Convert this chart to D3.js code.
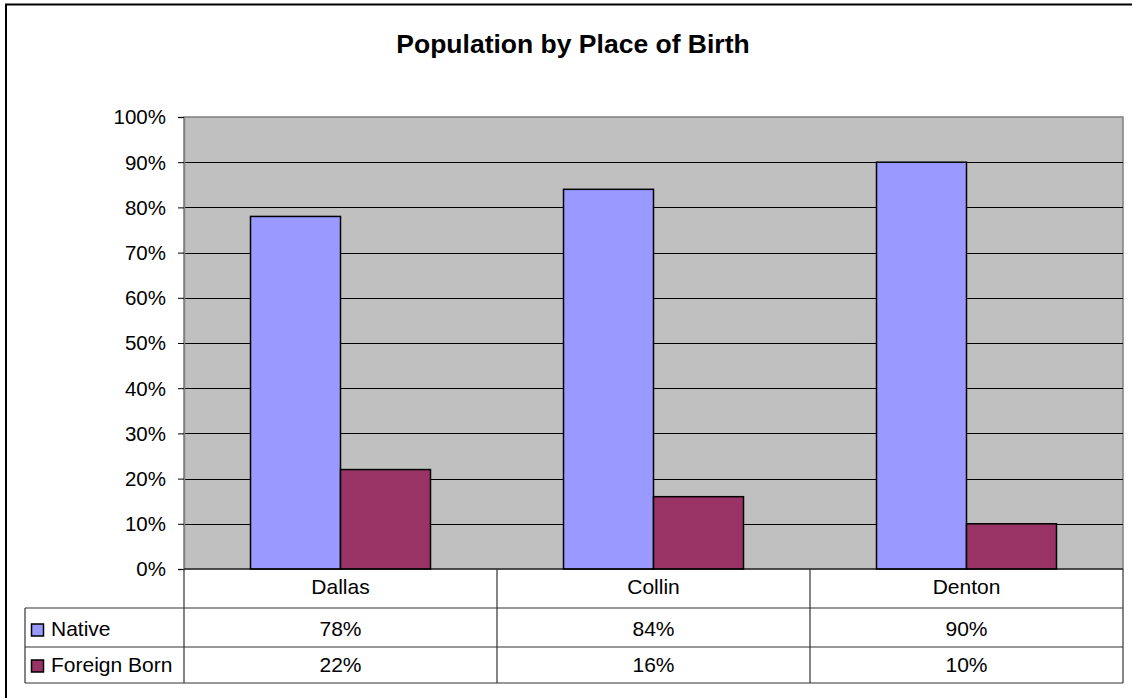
<!DOCTYPE html>
<html>
<head>
<meta charset="utf-8">
<script src="https://cdn.jsdelivr.net/npm/d3@7"></script>
<style>
  body { margin: 0; background: #fff; }
  svg { font-family: "Liberation Sans", Arial, sans-serif; }
</style>
</head>
<body>
<svg id="chart" width="1132" height="698"></svg>
<script>
'use strict';
// data
const counties = ["Dallas", "Collin", "Denton"];
const seriesNames = ["Native", "Foreign Born"];
const nativeValues = [78, 84, 90];
const foreignValues = [22, 16, 10];
const yTicks = [0, 10, 20, 30, 40, 50, 60, 70, 80, 90, 100];
const seriesColors = ["#9999FF", "#993366"];

const svg = d3.select("#chart");
const plot = { left: 184, right: 1123, top: 117, bottom: 569 };
const rowEdges = [569, 608, 647, 683];
const rowBaselines = [594, 636, 672];
const legendLeft = 25;
const fontFam = "'Liberation Sans', Arial, sans-serif";

// outer frame
svg.append("rect")
  .attr("x", 6).attr("y", 4.5).attr("width", 1140).attr("height", 710)
  .attr("fill", "#fff").attr("stroke", "#000").attr("stroke-width", 2);

svg.append("text")
  .attr("x", 573).attr("y", 53)
  .attr("text-anchor", "middle")
  .attr("font-size", "26.5px").attr("font-weight", "bold")
  .text("Population by Place of Birth");

const x = d3.scaleBand().domain(counties).range([plot.left, plot.right]);
const y = d3.scaleLinear().domain([0, 100]).range([plot.bottom, plot.top]);
const inner = d3.scaleBand().domain(seriesNames).range([0, 180]);

// plot background
svg.append("rect")
  .attr("x", plot.left).attr("y", plot.top)
  .attr("width", plot.right - plot.left).attr("height", plot.bottom - plot.top)
  .attr("fill", "#C0C0C0").attr("stroke", "#808080").attr("stroke-width", 1.5);

// gridlines
svg.append("g").selectAll("line")
  .data(yTicks.filter(d => d > 0 && d < 100))
  .enter().append("line")
  .attr("x1", plot.left).attr("x2", plot.right)
  .attr("y1", d => Math.round(y(d)) + 0.5).attr("y2", d => Math.round(y(d)) + 0.5)
  .attr("stroke", "#000").attr("stroke-width", 1);

// y axis
const yAxis = svg.append("g")
  .attr("transform", "translate(" + plot.left + ",0)")
  .call(d3.axisLeft(y).tickValues(yTicks).tickSize(6).tickPadding(12).tickFormat(d => d + "%"));
yAxis.select(".domain").attr("stroke", "#808080").attr("stroke-width", 1.5);
yAxis.selectAll(".tick line").attr("stroke", "#000");
yAxis.selectAll(".tick text")
  .attr("font-size", "20.5px").attr("fill", "#000").attr("dy", "0.34em")
  .attr("font-family", fontFam);

// bars
const bars = [nativeValues, foreignValues];
bars.forEach(function (vals, si) {
  svg.append("g").selectAll("rect")
    .data(vals)
    .enter().append("rect")
    .attr("x", (d, i) => x(counties[i]) + (x.bandwidth() - 180) / 2 + inner(seriesNames[si]))
    .attr("y", d => y(d))
    .attr("width", inner.bandwidth())
    .attr("height", d => y(0) - y(d))
    .attr("fill", seriesColors[si])
    .attr("stroke", "#000").attr("stroke-width", 1.5);
});

// data table
const grid = svg.append("g").attr("stroke", "#333").attr("stroke-width", 1.2);
grid.append("line").attr("x1", plot.left).attr("x2", plot.right).attr("y1", rowEdges[0]).attr("y2", rowEdges[0]).attr("stroke", "#000");
rowEdges.slice(1).forEach(function (ry) {
  grid.append("line").attr("x1", legendLeft).attr("x2", plot.right).attr("y1", ry).attr("y2", ry);
});
grid.append("line").attr("x1", legendLeft).attr("x2", legendLeft).attr("y1", rowEdges[1]).attr("y2", rowEdges[3]);
counties.forEach(function (c) {
  grid.append("line").attr("x1", x(c)).attr("x2", x(c)).attr("y1", rowEdges[0]).attr("y2", rowEdges[3]);
});
grid.append("line").attr("x1", plot.right).attr("x2", plot.right).attr("y1", rowEdges[0]).attr("y2", rowEdges[3]);

svg.append("g").selectAll("text")
  .data(counties)
  .enter().append("text")
  .attr("x", d => x(d) + x.bandwidth() / 2)
  .attr("y", rowBaselines[0])
  .attr("text-anchor", "middle").attr("font-size", "21px")
  .text(d => d);

bars.forEach(function (vals, si) {
  const base = rowBaselines[si + 1];
  svg.append("g").selectAll("text")
    .data(vals)
    .enter().append("text")
    .attr("x", (d, i) => x(counties[i]) + x.bandwidth() / 2)
    .attr("y", base)
    .attr("text-anchor", "middle").attr("font-size", "21px")
    .text(d => d + "%");
  svg.append("rect")
    .attr("x", 31.5).attr("y", base - 12)
    .attr("width", 12).attr("height", 12)
    .attr("fill", seriesColors[si]).attr("stroke", "#000").attr("stroke-width", 1.5);
  svg.append("text")
    .attr("x", 51).attr("y", base)
    .attr("font-size", "21px")
    .text(seriesNames[si]);
});
</script>
</body>
</html>
